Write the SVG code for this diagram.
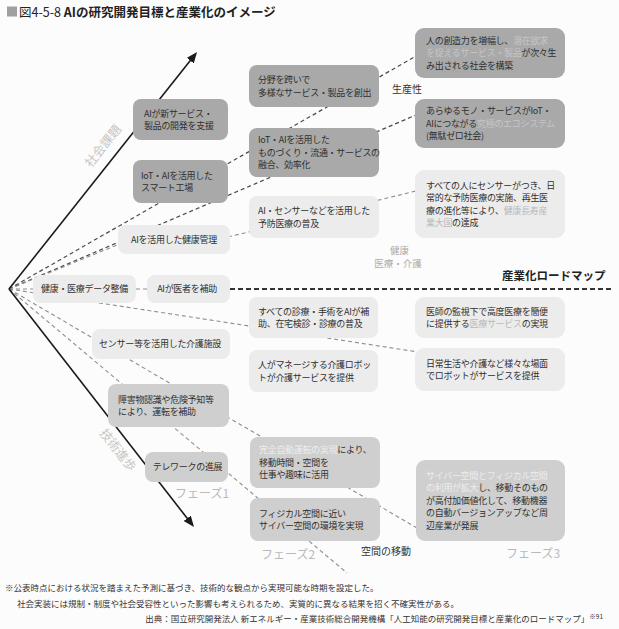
<svg xmlns="http://www.w3.org/2000/svg" width="619" height="629" viewBox="0 0 619 629">
  <style>
    text { font-family: "Noto Sans CJK JP", "Noto Sans", sans-serif; }
    .box-dark { fill: #a9a9a9; }
    .box-mid { fill: #cfcfcf; }
    .box-light { fill: #ececec; }
    .t { font-size: 9px; letter-spacing: -0.3px; fill: #2f2f2f; }
    .fd { fill: #c6c6c6; }
    .fl { fill: #b9b9b9; }
    .fm { fill: #ededed; }
    .c { text-anchor: middle; }
    .dash-dark { stroke: #4a4a4a; stroke-width: 1.2; stroke-dasharray: 4 3; fill: none; }
    .dash-light { stroke: #8e8e8e; stroke-width: 1.1; stroke-dasharray: 4 3; fill: none; }
    .roadmap { stroke: #333; stroke-width: 1.8; stroke-dasharray: 5 3; fill: none; }
    .axis { stroke: #1a1a1a; stroke-width: 1.6; fill: none; marker-end: url(#head); }
    .phase { font-size: 12px; fill: #b9b9b9; }
    .axis-label { font-size: 12.5px; fill: #c6c6c6; text-anchor: middle; }
    .label { font-size: 10px; fill: #333; }
    .note { font-size: 8.5px; fill: #333; }
  </style>
  <defs>
    <marker id="head" markerUnits="userSpaceOnUse" markerWidth="12" markerHeight="10" refX="5" refY="4.5" orient="auto">
      <path d="M0,0 L11,4.5 L0,9 z" fill="#1a1a1a"/>
    </marker>
  </defs>

  <rect width="619" height="629" fill="#fcfcfc"/>

  <!-- title -->
  <rect x="7" y="6.5" width="10" height="10" fill="#a0a0a0"/>
  <text x="19" y="17" font-size="12.5" fill="#222">図4-5-8 <tspan font-weight="bold">AIの研究開発目標と産業化のイメージ</tspan></text>

  <!-- connectors -->
  <g id="connectors">
    <line class="dash-dark" x1="9" y1="289" x2="416" y2="56"/>
    <line class="dash-dark" x1="9" y1="289" x2="416" y2="115"/>
    <line class="dash-light" x1="9" y1="289" x2="122" y2="243"/>
    <line class="dash-light" x1="228" y1="237" x2="416" y2="191"/>
    <line class="dash-light" x1="9" y1="289" x2="34" y2="289"/>
    <line class="dash-light" x1="136" y1="289" x2="147" y2="289"/>
    <line class="dash-light" x1="9" y1="289" x2="418" y2="352"/>
    <line class="dash-light" x1="9" y1="289" x2="417" y2="528"/>
    <line class="dash-light" x1="9" y1="289" x2="347" y2="573"/>
    <line class="roadmap" x1="230" y1="289" x2="612" y2="289"/>
    <!-- axes -->
    <line class="axis" x1="9" y1="289" x2="193.3" y2="56.7"/>
    <line class="axis" x1="9" y1="289" x2="190.3" y2="522.3"/>
  </g>

  <!-- axis labels -->
  <text class="axis-label" transform="translate(103,146) rotate(-51.5)" y="4.5">社会課題</text>
  <text class="axis-label" transform="translate(118,450) rotate(51.8)" y="4.5">技術進歩</text>

  <!-- phase 1 -->
  <g id="n1">
    <rect class="box-dark" x="133" y="99" width="95" height="41" rx="8"/>
    <text class="t" x="144" y="116.5">AIが新サービス・</text>
    <text class="t" x="144" y="129">製品の開発を支援</text>
  </g>
  <g id="n2">
    <rect class="box-dark" x="133" y="160" width="95" height="43" rx="8"/>
    <text class="t" x="141" y="178.5">IoT・AIを活用した</text>
    <text class="t" x="141" y="191">スマート工場</text>
  </g>
  <g id="n3">
    <rect class="box-light" x="118" y="225" width="112" height="29" rx="8"/>
    <text class="t c" x="174" y="242.8">AIを活用した健康管理</text>
  </g>
  <g id="n4">
    <rect class="box-light" x="33" y="275" width="103" height="28" rx="8"/>
    <text class="t c" x="84.5" y="292.3">健康・医療データ整備</text>
  </g>
  <g id="n5">
    <rect class="box-light" x="147" y="275" width="83" height="28" rx="8"/>
    <text class="t c" x="187" y="292.3">AIが医者を補助</text>
  </g>
  <g id="n6">
    <rect class="box-light" x="92" y="329" width="138" height="30" rx="8"/>
    <text class="t c" x="160" y="347.3">センサー等を活用した介護施設</text>
  </g>
  <g id="n7">
    <rect class="box-mid" x="108" y="384" width="121" height="43" rx="8"/>
    <text class="t" x="118" y="402.5">障害物認識や危険予知等</text>
    <text class="t" x="118" y="415">により、運転を補助</text>
  </g>
  <g id="n8">
    <rect class="box-mid" x="145" y="452" width="83" height="30" rx="8"/>
    <text class="t c" x="187.5" y="470.3">テレワークの進展</text>
  </g>

  <!-- phase 2 -->
  <g id="n9">
    <rect class="box-dark" x="249" y="65" width="130" height="42" rx="8"/>
    <text class="t" x="258" y="83">分野を跨いで</text>
    <text class="t" x="258" y="95.5">多様なサービス・製品を創出</text>
  </g>
  <g id="n10">
    <rect class="box-dark" x="249" y="128" width="130" height="49" rx="8"/>
    <text class="t" x="258" y="143.3">IoT・AIを活用した</text>
    <text class="t" x="258" y="155.8">ものづくり・流通・サービスの</text>
    <text class="t" x="258" y="168.3">融合、効率化</text>
  </g>
  <g id="n11">
    <rect class="box-light" x="249" y="196" width="130" height="42" rx="8"/>
    <text class="t" x="258" y="214">AI・センサーなどを活用した</text>
    <text class="t" x="258" y="226.5">予防医療の普及</text>
  </g>
  <g id="n12">
    <rect class="box-light" x="249" y="297" width="129" height="41" rx="8"/>
    <text class="t" x="258" y="314.5">すべての診療・手術をAIが補</text>
    <text class="t" x="258" y="327">助、在宅検診・診療の普及</text>
  </g>
  <g id="n13">
    <rect class="box-light" x="249" y="350" width="129" height="42" rx="8"/>
    <text class="t" x="258" y="368">人がマネージする介護ロボッ</text>
    <text class="t" x="258" y="380.5">トが介護サービスを提供</text>
  </g>
  <g id="n14">
    <rect class="box-mid" x="250" y="437" width="130" height="51" rx="8"/>
    <text class="t" x="259" y="453.3"><tspan class="fm">完全自動運転の実現</tspan>により、</text>
    <text class="t" x="259" y="465.8">移動時間・空間を</text>
    <text class="t" x="259" y="478.3">仕事や趣味に活用</text>
  </g>
  <g id="n15">
    <rect class="box-mid" x="250" y="498" width="130" height="43" rx="8"/>
    <text class="t" x="259" y="516.5">フィジカル空間に近い</text>
    <text class="t" x="259" y="529">サイバー空間の環境を実現</text>
  </g>

  <!-- phase 3 -->
  <g id="n16">
    <rect class="box-dark" x="415" y="28" width="150" height="50" rx="9"/>
    <text class="t" x="426" y="43.8">人の創造力を増幅し、<tspan class="fd">潜在欲求</tspan></text>
    <text class="t" x="426" y="56.3"><tspan class="fd">を捉えるサービス・製品</tspan>が次々生</text>
    <text class="t" x="426" y="68.8">み出される社会を構築</text>
  </g>
  <g id="n17">
    <rect class="box-dark" x="415" y="99" width="150" height="49" rx="9"/>
    <text class="t" x="426" y="114.3">あらゆるモノ・サービスがIoT・</text>
    <text class="t" x="426" y="126.8">AIにつながる<tspan class="fd">究極のエコシステム</tspan></text>
    <text class="t" x="426" y="139.3">(無駄ゼロ社会)</text>
  </g>
  <g id="n18">
    <rect class="box-light" x="415" y="170" width="150" height="68" rx="9"/>
    <text class="t" x="426" y="188.5">すべての人にセンサーがつき、日</text>
    <text class="t" x="426" y="201">常的な予防医療の実施、再生医</text>
    <text class="t" x="426" y="213.5">療の進化等により、<tspan class="fl">健康長寿産</tspan></text>
    <text class="t" x="426" y="226"><tspan class="fl">業大国</tspan>の達成</text>
  </g>
  <g id="n19">
    <rect class="box-light" x="415" y="297" width="150" height="41" rx="9"/>
    <text class="t" x="426" y="314.5">医師の監視下で高度医療を簡便</text>
    <text class="t" x="426" y="327">に提供する<tspan class="fl">医療サービス</tspan>の実現</text>
  </g>
  <g id="n20">
    <rect class="box-light" x="415" y="348" width="150" height="43" rx="9"/>
    <text class="t" x="426" y="366.5">日常生活や介護など様々な場面</text>
    <text class="t" x="426" y="379">でロボットがサービスを提供</text>
  </g>
  <g id="n21">
    <rect class="box-mid" x="416" y="460" width="149" height="81" rx="9"/>
    <text class="t" x="426" y="478.8"><tspan class="fm">サイバー空間とフィジカル空間</tspan></text>
    <text class="t" x="426" y="491.3"><tspan class="fm">の利用が拡大</tspan>し、移動そのもの</text>
    <text class="t" x="426" y="503.8">が高付加価値化して、移動機器</text>
    <text class="t" x="426" y="516.3">の自動バージョンアップなど周</text>
    <text class="t" x="426" y="528.8">辺産業が発展</text>
  </g>

  <!-- domain labels -->
  <text class="label" x="392" y="92.6">生産性</text>
  <text class="c" x="399.5" y="253.5" font-size="9.5" fill="#ababab">健康</text>
  <text class="c" x="398" y="266.5" font-size="9.5" fill="#ababab">医療・介護</text>
  <text x="502" y="280" font-size="11.5" font-weight="bold" fill="#222">産業化ロードマップ</text>
  <text class="label" x="361" y="555">空間の移動</text>

  <!-- phases -->
  <text class="phase" x="175" y="497.5">フェーズ1</text>
  <text class="phase" x="261" y="559">フェーズ2</text>
  <text class="phase" x="506" y="558">フェーズ3</text>

  <!-- notes -->
  <text class="note" x="5" y="591">※公表時点における状況を踏まえた予測に基づき、技術的な観点から実現可能な時期を設定した。</text>
  <text class="note" x="17" y="607">社会実装には規制・制度や社会受容性といった影響も考えられるため、実質的に異なる結果を招く不確実性がある。</text>
  <text class="note" x="603" y="622" text-anchor="end">出典：国立研究開発法人 新エネルギー・産業技術総合開発機構「人工知能の研究開発目標と産業化のロードマップ」<tspan font-size="6.5" dy="-3">※91</tspan></text>
</svg>
